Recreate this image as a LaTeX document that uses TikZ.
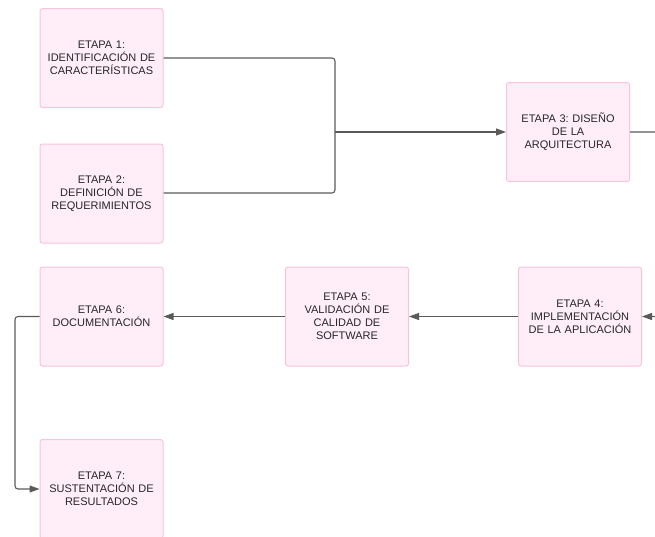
\documentclass[tikz,border=0pt]{standalone}
\usepackage{fontspec}
\setmainfont{Liberation Sans}
\usetikzlibrary{arrows.meta}
\definecolor{boxfill}{HTML}{FFEEF8}
\definecolor{boxline}{HTML}{F7C4DC}
\definecolor{wire}{HTML}{5A5A5A}
\tikzset{
  stage/.style={draw=boxline, fill=boxfill, line width=1pt, rounded corners=2.5pt,
    minimum width=123pt, minimum height=99pt, inner sep=0pt,
    align=center, text width=118pt, font=\frenchspacing\fontsize{11}{13}\selectfont, text=black!85},
  link/.style={draw=wire, line width=1.1pt, rounded corners=3pt},
  flow/.style={link, -{Triangle[length=10pt,width=7pt]}}
}
\begin{document}
\begin{tikzpicture}[x=1pt,y=-1pt]
\useasboundingbox (0,0) rectangle (655,536);
\clip (0,0) rectangle (655,536);
% stages
\node[stage] (s1) at (101.5,58) {ETAPA 1:\\IDENTIFICACIÓN DE\\CARACTERÍSTICAS\\[3pt]};
\node[stage] (s2) at (101.5,193.5) {ETAPA 2:\\DEFINICIÓN DE\\REQUERIMIENTOS\\[3pt]};
\node[stage] (s3) at (568,132) {ETAPA 3: DISEÑO\\DE LA\\ARQUITECTURA\\[3pt]};
\node[stage] (s4) at (580,316.5) {ETAPA 4:\\IMPLEMENTACIÓN\\DE LA APLICACIÓN\\[3pt]};
\node[stage] (s5) at (347,316.5) {ETAPA 5:\\VALIDACIÓN DE\\CALIDAD DE\\SOFTWARE};
\node[stage] (s6) at (101.5,316.5) {ETAPA 6:\\DOCUMENTACIÓN\\[3pt]};
\node[stage] (s7) at (101.5,489) {ETAPA 7:\\SUSTENTACIÓN DE\\RESULTADOS\\[3pt]};
% routing points
\coordinate (ja) at (335,58);
\coordinate (jb) at (335,193);
\coordinate (j) at (335,132);
\coordinate (r) at (690,132);
\coordinate (l) at (15,316.5);
% stages 1 and 2 merge into one line towards stage 3
\draw[link] (s1.east |- ja) -- (ja) -- (jb) -- (s2.east |- jb);
\draw[flow] (j) -- (s3.west);
\draw[flow] (s3.east) -- (r) |- (s4.east);
\draw[flow] (s4.west) -- (s5.east);
\draw[flow] (s5.west) -- (s6.east);
\draw[flow] (s6.west) -- (l) |- (s7.west);
\end{tikzpicture}
\end{document}
